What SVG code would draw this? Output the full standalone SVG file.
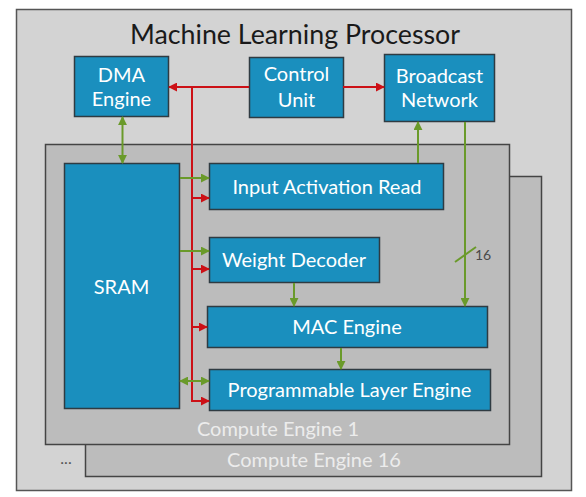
<svg xmlns="http://www.w3.org/2000/svg" width="586" height="497" viewBox="0 0 586 497">
<defs>
<style>
.frame{fill:#d3d3d3;stroke:#555;stroke-width:1.5}
.ce{fill:#bcbcbc;stroke:#444;stroke-width:1.5}
.node{fill:#1a8fbe;stroke:#2f3b42;stroke-width:1.5}
.nt{font-family:Lato,"Open Sans","Liberation Sans",sans-serif;font-size:20px;fill:#fff;text-anchor:middle}
.cet{font-family:Lato,"Open Sans","Liberation Sans",sans-serif;font-size:20px;fill:#ececec;text-anchor:middle}
.g{stroke:#6a9a2a;stroke-width:2;fill:none}
.r{stroke:#cc1016;stroke-width:2;fill:none}
</style>
<marker id="ag" viewBox="0 0 10 10" refX="9" refY="5" markerWidth="4.5" markerHeight="4.5" orient="auto-start-reverse" markerUnits="strokeWidth"><path d="M0,0L10,5L0,10z" fill="#6a9a2a"/></marker>
<marker id="ar" viewBox="0 0 10 10" refX="9" refY="5" markerWidth="4.5" markerHeight="4.5" orient="auto-start-reverse" markerUnits="strokeWidth"><path d="M0,0L10,5L0,10z" fill="#cc1016"/></marker>
</defs>
<g id="processor">
<rect class="frame" x="16.5" y="9.5" width="555" height="481"/>
<text x="295" y="44" font-family="Lato,'Open Sans','Liberation Sans',sans-serif" font-size="26.8" fill="#1a1a1a" text-anchor="middle">Machine Learning Processor</text>
</g>
<g id="compute-engine-16">
<rect class="ce" x="85.5" y="176.5" width="456" height="300"/>
<text class="cet" x="314" y="467">Compute Engine 16</text>
</g>
<g id="ellipsis">
<text x="66" y="464" font-family="Lato,'Liberation Sans',sans-serif" font-size="16" fill="#555" text-anchor="middle">...</text>
</g>
<g id="compute-engine-1">
<rect class="ce" x="45.5" y="144.5" width="464" height="300"/>
<text class="cet" x="278" y="436">Compute Engine 1</text>
</g>
<g id="dma-engine">
<rect class="node" x="74.5" y="56.5" width="94" height="60"/>
<text class="nt" x="121.5" y="82">DMA</text>
<text class="nt" x="121.5" y="106">Engine</text>
</g>
<g id="control-unit">
<rect class="node" x="249.5" y="57.5" width="94" height="60"/>
<text class="nt" x="296.5" y="81">Control</text>
<text class="nt" x="296.5" y="107">Unit</text>
</g>
<g id="broadcast-network">
<rect class="node" x="384.5" y="54.5" width="110" height="67"/>
<text class="nt" x="439.5" y="83">Broadcast</text>
<text class="nt" x="439.5" y="107">Network</text>
</g>
<g id="sram">
<rect class="node" x="64.5" y="163.5" width="115" height="245"/>
<text class="nt" x="121.5" y="294" font-size="21">SRAM</text>
</g>
<g id="input-activation-read">
<rect class="node" x="209.5" y="163.5" width="234" height="46"/>
<text class="nt" x="327" y="194">Input Activation Read</text>
</g>
<g id="weight-decoder">
<rect class="node" x="209.5" y="237.5" width="170" height="45"/>
<text class="nt" x="294" y="267">Weight Decoder</text>
</g>
<g id="mac-engine">
<rect class="node" x="207.5" y="306.5" width="280" height="41"/>
<text class="nt" x="347" y="334">MAC Engine</text>
</g>
<g id="programmable-layer-engine">
<rect class="node" x="209.5" y="369.5" width="281" height="41"/>
<text class="nt" x="349.5" y="397">Programmable Layer Engine</text>
</g>
<g id="connectors">
<path class="r" d="M249,87H169" marker-end="url(#ar)"/>
<path class="r" d="M343,87H384" marker-end="url(#ar)"/>
<path class="r" d="M192,87V402"/>
<path class="r" d="M192,198H209" marker-end="url(#ar)"/>
<path class="r" d="M192,269H209" marker-end="url(#ar)"/>
<path class="r" d="M192,327H207" marker-end="url(#ar)"/>
<path class="r" d="M192,401H209" marker-end="url(#ar)"/>
<path class="g" d="M122.5,117V163" marker-start="url(#ag)" marker-end="url(#ag)"/>
<path class="g" d="M180,178H209" marker-end="url(#ag)"/>
<path class="g" d="M180,251H209" marker-end="url(#ag)"/>
<path class="g" d="M180,381H209" marker-start="url(#ag)" marker-end="url(#ag)"/>
<path class="g" d="M418,163V122" marker-end="url(#ag)"/>
<path class="g" d="M465,122V306" marker-end="url(#ag)"/>
<path class="g" d="M455,262L476,247"/>
<path class="g" d="M294,283V306" marker-end="url(#ag)"/>
<path class="g" d="M341,348V369" marker-end="url(#ag)"/>
<text x="475" y="260" font-family="Lato,'Liberation Sans',sans-serif" font-size="14" fill="#4a4a4a">16</text>
</g>
</svg>
